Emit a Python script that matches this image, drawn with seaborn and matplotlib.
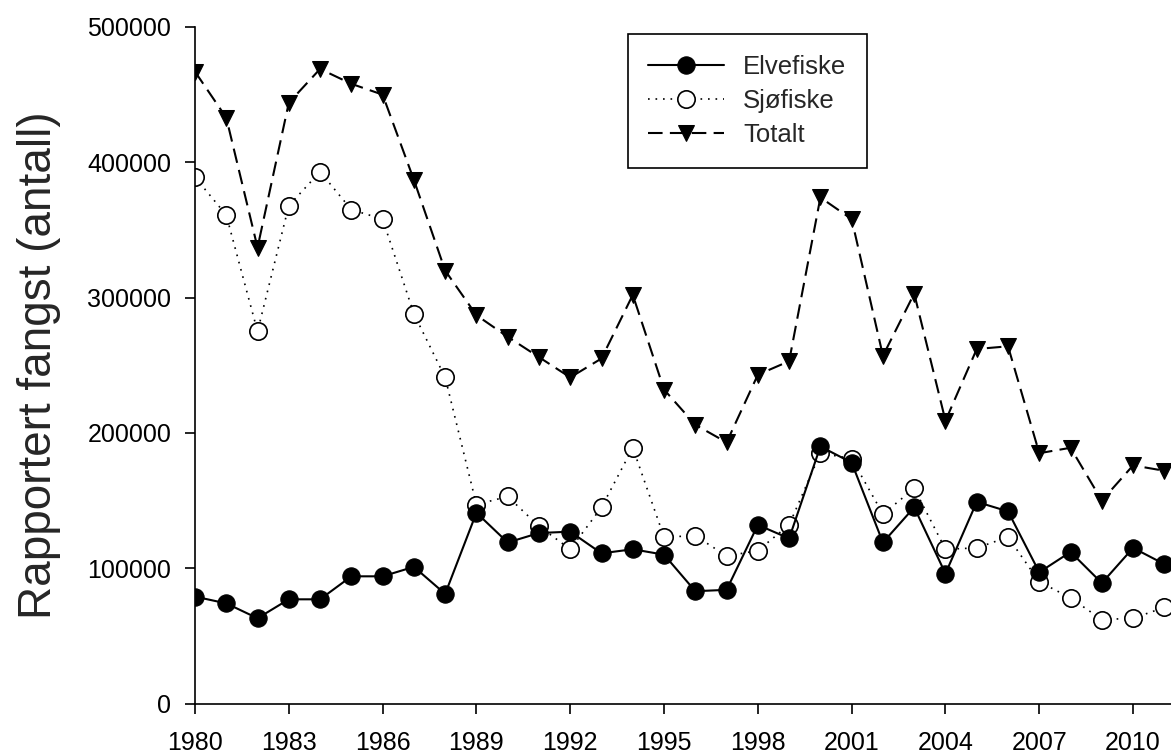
import matplotlib
matplotlib.use("Agg")
import matplotlib.pyplot as plt
import seaborn as sns
import numpy as np
import pandas as pd
from matplotlib.ticker import FixedLocator, FuncFormatter

years = list(range(1980, 2012))
elvefiske = [79000, 74000, 63000, 77000, 77000, 94000, 94000, 101000, 81000, 141000,
             119000, 126000, 127000, 111000, 114000, 110000, 83000, 84000, 132000, 122000,
             190000, 178000, 119000, 145000, 96000, 149000, 142000, 97000, 112000, 89000,
             115000, 103000]
sjofiske = [389000, 361000, 275000, 368000, 393000, 365000, 358000, 288000, 241000, 147000,
            153000, 131000, 114000, 145000, 189000, 123000, 124000, 109000, 113000, 132000,
            185000, 181000, 140000, 159000, 114000, 115000, 123000, 90000, 78000, 62000,
            63000, 71000]
totalt = [467000, 433000, 337000, 444000, 469000, 458000, 450000, 387000, 320000, 287000,
          271000, 256000, 241000, 255000, 302000, 232000, 206000, 193000, 243000, 253000,
          374000, 358000, 257000, 303000, 209000, 262000, 264000, 185000, 189000, 150000,
          176000, 172000]
x_ticks = [1980, 1983, 1986, 1989, 1992, 1995, 1998, 2001, 2004, 2007, 2010]
y_ticks = [0, 100000, 200000, 300000, 400000, 500000]
labels = ["Elvefiske", "Sjøfiske", "Totalt"]
ylabel = "Rapportert fangst (antall)"

sns.set_style("ticks")
plt.rcParams['font.family'] = ['Liberation Sans', 'DejaVu Sans']

fig = plt.figure(figsize=(11.71, 7.53), dpi=100)
W, H = 1171, 753
left_px, right_px, y0_px, ytop_px = 195, 1171, 703.5, 27
ax = fig.add_axes([left_px / W, 1 - y0_px / H, (right_px - left_px) / W, (y0_px - ytop_px) / H])

df = pd.DataFrame({"year": years, "Elvefiske": elvefiske, "Sjøfiske": sjofiske, "Totalt": totalt})

sns.lineplot(data=df, x="year", y="Totalt", ax=ax, color="black", linewidth=1.5,
             linestyle=(0, (7, 3.5)), marker="v", markersize=12,
             markerfacecolor="black", markeredgecolor="black", label=labels[2])
sns.lineplot(data=df, x="year", y="Sjøfiske", ax=ax, color="black", linewidth=1.2,
             linestyle=(0, (1, 3.5)), marker="o", markersize=12.5,
             markerfacecolor="white", markeredgecolor="black", markeredgewidth=1.2,
             label=labels[1])
sns.lineplot(data=df, x="year", y="Elvefiske", ax=ax, color="black", linewidth=1.5,
             linestyle="-", marker="o", markersize=12.5,
             markerfacecolor="black", markeredgecolor="black", label=labels[0])

ax.set_xlim(1980, 1980 + (right_px - left_px) / 31.27)
ax.set_ylim(0, 500000)
ax.xaxis.set_major_locator(FixedLocator(x_ticks))
ax.yaxis.set_major_locator(FixedLocator(y_ticks))
ax.yaxis.set_major_formatter(FuncFormatter(lambda v, p: f"{int(v)}"))
ax.xaxis.set_major_formatter(FuncFormatter(lambda v, p: f"{int(v)}"))
ax.tick_params(axis="both", direction="out", length=7, width=1.2, labelsize=18,
               colors="black")
ax.tick_params(axis="y", pad=10)
ax.tick_params(axis="x", pad=12.5)
ax.set_xlabel("")
ax.set_ylabel(ylabel, fontsize=33, labelpad=19)
for s in ["top", "right"]:
    ax.spines[s].set_visible(False)
for s in ["left", "bottom"]:
    ax.spines[s].set_linewidth(1.2)
    ax.spines[s].set_color("black")

handles, lbls = ax.get_legend_handles_labels()
order = [lbls.index(l) for l in labels]
leg = ax.legend([handles[i] for i in order], [lbls[i] for i in order],
                loc="upper left", bbox_to_anchor=(627.7 / W, 1 - 34 / H),
                bbox_transform=fig.transFigure, fontsize=18.5, frameon=True,
                fancybox=False, framealpha=1, edgecolor="black", handlelength=2.95,
                borderpad=0.8, labelspacing=0.4, handletextpad=0.75, borderaxespad=0)
leg.get_frame().set_linewidth(1.2)

fig.savefig("out.png", dpi=100)
